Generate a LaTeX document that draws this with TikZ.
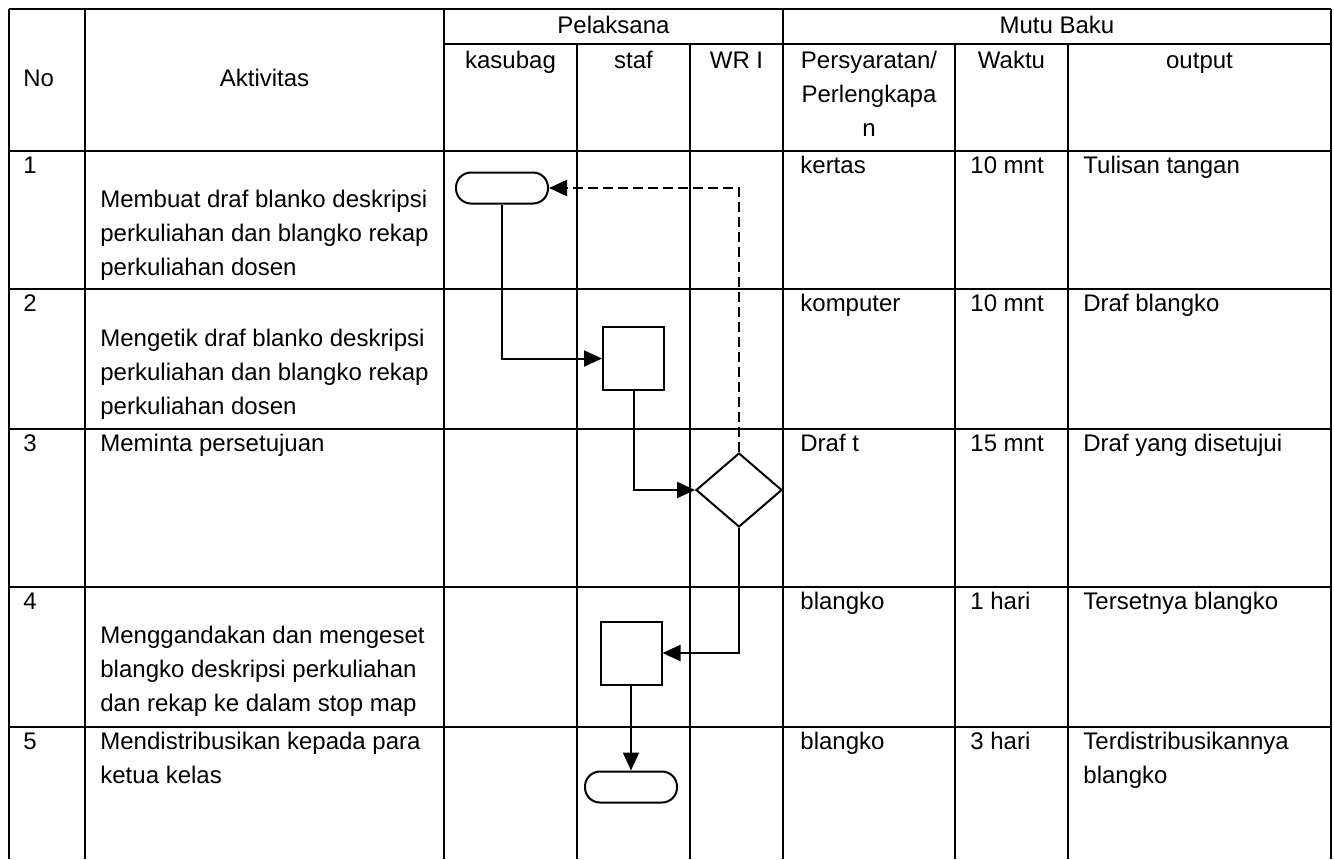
\documentclass[tikz,border=0pt]{standalone}
\usepackage{fontspec}
\setmainfont{Liberation Sans}
\usetikzlibrary{shapes.geometric,arrows.meta}

\tikzset{
  garis/.style={line width=1.2pt},
  alir/.style={line width=1pt,-{Triangle[length=9pt,width=8pt]}},
  balik/.style={alir,dash pattern=on 5pt off 2.5pt},
  proses/.style={draw,line width=1pt,minimum width=30.5pt,minimum height=31.5pt,inner sep=0pt},
  ujung/.style={draw,line width=1pt,rounded corners=7.5pt,minimum width=46pt,minimum height=15.5pt,inner sep=0pt},
  putusan/.style={draw,diamond,line width=1pt,minimum width=43pt,minimum height=37pt,inner sep=0pt},
  isi/.style={anchor=base west,align=left,inner sep=0pt,font=\fontsize{12pt}{17pt}\selectfont},
  judul/.style={anchor=base,align=center,inner sep=0pt,font=\fontsize{12pt}{17pt}\selectfont}
}

\begin{document}
\begin{tikzpicture}[x=0.5pt,y=-0.5pt]

\useasboundingbox (0,0) rectangle (1334,859);

% tabel
\draw[garis] (9,9) -- (1331,9);
\draw[garis] (444,44) -- (1331,44);
\draw[garis] (9,151) -- (1331,151);
\draw[garis] (9,289) -- (1331,289);
\draw[garis] (9,429) -- (1331,429);
\draw[garis] (9,587) -- (1331,587);
\draw[garis] (9,727) -- (1331,727);

\draw[garis] (9,9) -- (9,859);
\draw[garis] (85,9) -- (85,859);
\draw[garis] (444,9) -- (444,859);
\draw[garis] (577,44) -- (577,859);
\draw[garis] (690,44) -- (690,859);
\draw[garis] (783,9) -- (783,859);
\draw[garis] (955,44) -- (955,859);
\draw[garis] (1068,44) -- (1068,859);
\draw[garis] (1331,9) -- (1331,859);

% kepala tabel
\node[isi] (hNo) at (23,86) {No};
\node[judul] (hAkt) at (264.5,86) {Aktivitas};
\node[judul] (hPel) at (613.5,33) {Pelaksana};
\node[judul] (hMutu) at (1057,33) {Mutu Baku};
\node[judul] (hKas) at (510.5,68) {kasubag};
\node[judul] (hStaf) at (633.5,68) {staf};
\node[judul] (hWR) at (736.5,68) {WR I};
\node[judul] (hSyarat) at (869,136) {Persyaratan/\\Perlengkapa\\n};
\node[judul] (hWaktu) at (1011.5,68) {Waktu};
\node[judul] (hOut) at (1199.5,68) {output};

% baris 1
\node[isi] (no1) at (23,173) {1};
\node[isi] (akt1) at (100,275) {Membuat draf blanko deskripsi\\perkuliahan dan blangko rekap\\perkuliahan dosen};
\node[isi] (syr1) at (800,173) {kertas};
\node[isi] (wkt1) at (970,173) {10 mnt};
\node[isi] (out1) at (1083,173) {Tulisan tangan};

% baris 2
\node[isi] (no2) at (23,311) {2};
\node[isi] (akt2) at (100,414) {Mengetik draf blanko deskripsi\\perkuliahan dan blangko rekap\\perkuliahan dosen};
\node[isi] (syr2) at (800,311) {komputer};
\node[isi] (wkt2) at (970,311) {10 mnt};
\node[isi] (out2) at (1083,311) {Draf blangko};

% baris 3
\node[isi] (no3) at (23,451) {3};
\node[isi] (akt3) at (100,451) {Meminta persetujuan};
\node[isi] (syr3) at (800,451) {Draf t};
\node[isi] (wkt3) at (970,451) {15 mnt};
\node[isi] (out3) at (1083,451) {Draf yang disetujui};

% baris 4
\node[isi] (no4) at (23,609) {4};
\node[isi] (akt4) at (100,711) {Menggandakan dan mengeset\\blangko deskripsi perkuliahan\\dan rekap ke dalam stop map};
\node[isi] (syr4) at (800,609) {blangko};
\node[isi] (wkt4) at (970,609) {1 hari};
\node[isi] (out4) at (1083,609) {Tersetnya blangko};

% baris 5
\node[isi] (no5) at (23,749) {5};
\node[isi] (akt5) at (100,783) {Mendistribusikan kepada para\\ketua kelas};
\node[isi] (syr5) at (800,749) {blangko};
\node[isi] (wkt5) at (970,749) {3 hari};
\node[isi] (out5) at (1083,783) {Terdistribusikannya\\blangko};

% bagan alir
\node[ujung] (mulai) at (502,188) {};
\node[proses] (ketik) at (633.5,358.5) {};
\node[putusan] (setuju) at (739,490) {};
\node[proses] (ganda) at (631,653) {};
\node[ujung] (selesai) at (631,787) {};

\draw[alir] (mulai.south) |- (ketik.west);
\draw[alir] (ketik.south) |- (setuju.west);
\draw[balik] (setuju.north) |- (mulai.east);
\draw[alir] (setuju.south) |- (ganda.east);
\draw[alir] (ganda.south) -- (selesai.north);

\end{tikzpicture}
\end{document}
